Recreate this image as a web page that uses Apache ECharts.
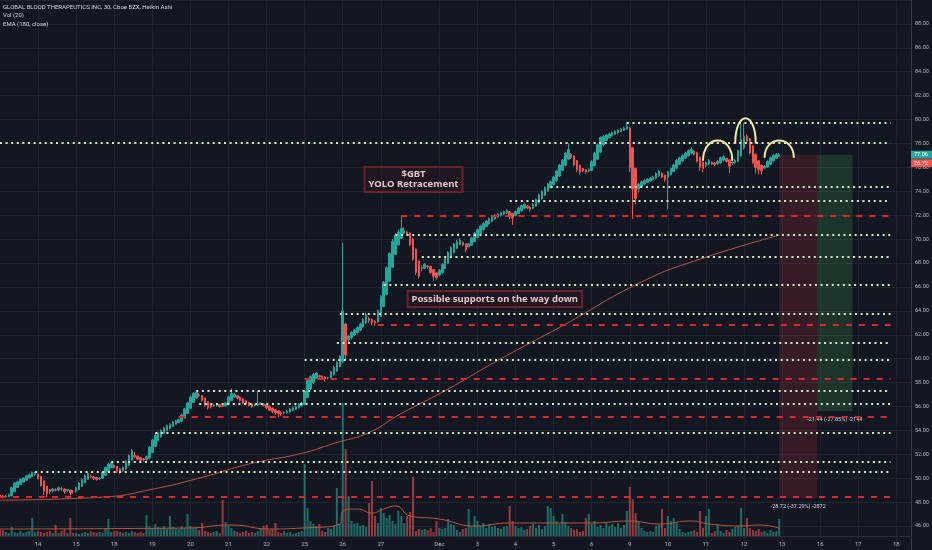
<!DOCTYPE html>
<html>
<head>
<meta charset="utf-8">
<script src="https://cdn.jsdelivr.net/npm/echarts@6/dist/echarts.min.js"></script>
<style>
html, body { margin: 0; padding: 0; background: #131722; }
#chart { width: 932px; height: 550px; }
</style>
</head>
<body>
<div id="chart"></div>
<script>
// sessions on the time axis ('' = no label shown) and 30-minute bars per session
var dayLabels = ['', '14', '15', '18', '19', '20', '21', '22', '25', '26', '27', '', 'Dec', '3', '4', '5', '6', '9', '10', '11', '12', '13', '16', '17', '18'];
var barsPerDay = [13, 13, 13, 13, 13, 13, 13, 13, 13, 13, 13, 7, 13, 13, 13, 13, 13, 13, 13, 13, 13, 13, 13, 13, 13];
var slotCount = 312;

// Heikin Ashi bars, one line per session (Nov 13 .. Dec 12)
var haOpen = [
  48.60,48.52,48.46,48.48,48.54,48.87,49.23,49.47,49.68,49.84,50.02,50.16,50.33,
  50.36,50.18,49.79,49.35,49.02,48.96,49.03,49.01,49.11,49.10,49.00,49.02,48.91,
  48.90,49.05,49.32,49.61,49.90,50.15,50.12,50.06,49.98,49.99,50.24,50.57,50.88,
  51.09,51.00,50.80,50.65,50.78,51.09,51.50,51.90,51.85,51.72,51.61,51.58,51.69,
  52.15,52.67,53.14,53.47,53.73,53.97,54.18,54.34,54.52,54.66,54.78,55.04,55.42,
  55.86,56.33,56.71,56.96,56.93,56.71,56.41,56.15,56.08,56.09,56.15,56.07,56.05,
  56.19,56.50,56.80,56.90,56.80,56.65,56.48,56.34,56.22,56.11,56.13,56.17,56.21,
  56.16,56.03,55.87,55.73,55.62,55.51,55.46,55.48,55.54,55.67,55.79,55.89,56.05,
  56.17,56.74,57.47,57.99,58.34,58.57,58.54,58.47,58.39,58.39,58.65,58.97,59.34,
  59.77,62.90,61.60,61.75,61.98,62.19,62.40,62.65,62.98,63.34,63.27,63.13,63.07,
  63.53,64.37,65.38,66.49,67.65,68.72,69.51,70.06,70.48,70.59,70.52,70.01,69.16,
  68.18,67.54,67.57,67.74,67.72,67.46,67.18,
  66.99,67.20,67.55,67.98,68.44,68.87,69.24,69.52,69.71,69.61,69.36,69.48,69.79,
  70.15,70.48,70.79,71.05,71.28,71.49,71.70,71.85,71.98,72.09,72.20,72.30,72.15,
  71.98,72.14,72.37,72.59,72.75,72.68,72.59,72.75,73.03,73.37,73.69,74.00,74.30,
  74.55,74.88,75.29,75.75,76.18,76.69,77.10,76.95,76.58,76.19,75.90,75.80,75.70,
  75.75,76.13,76.67,77.28,77.89,78.25,78.48,78.64,78.77,78.89,79.00,79.10,79.20,
  79.30,77.65,75.93,74.20,74.40,74.60,74.75,74.88,74.99,75.10,75.30,75.50,75.35,
  75.18,75.39,75.65,75.92,76.26,76.53,76.77,76.98,77.19,77.35,77.22,76.86,76.43,
  76.17,76.28,76.44,76.37,76.31,76.40,76.60,76.75,76.62,76.36,76.40,76.50,76.95,
  77.62,78.60,78.40,77.80,77.10,76.55,76.18,75.94,76.02,76.26,76.53,76.77,76.93
];
var haClose = [
  48.45,48.40,48.50,48.60,49.20,49.60,49.70,49.90,50.00,50.20,50.30,50.50,50.40,
  50.00,49.40,48.90,48.70,48.90,49.10,49.00,49.20,49.10,48.90,49.05,48.80,48.90,
  49.20,49.60,49.90,50.20,50.40,50.10,50.00,49.90,50.00,50.50,50.90,51.20,51.30,
  50.90,50.60,50.50,50.90,51.40,51.90,52.30,51.80,51.60,51.50,51.55,51.80,52.60,
  53.20,53.60,53.80,54.00,54.20,54.40,54.50,54.70,54.80,54.90,55.30,55.80,56.30,
  56.80,57.10,57.20,56.90,56.50,56.10,55.90,56.00,56.10,56.20,56.00,56.02,56.30,
  56.80,57.10,57.00,56.70,56.50,56.30,56.20,56.10,56.00,56.15,56.20,56.25,56.10,
  55.90,55.70,55.60,55.50,55.40,55.40,55.50,55.60,55.80,55.90,56.00,56.20,56.30,
  57.30,58.20,58.50,58.70,58.80,58.50,58.40,58.30,58.40,58.90,59.30,59.70,60.20,
  64.00,60.30,61.90,62.20,62.40,62.60,62.90,63.30,63.70,63.20,63.00,63.00,64.00,
  65.20,66.40,67.60,68.80,69.80,70.30,70.60,70.90,70.70,70.45,69.50,68.30,67.20,
  66.90,67.60,67.90,67.70,67.20,66.90,66.80,
  67.40,67.90,68.40,68.90,69.30,69.60,69.80,69.90,69.50,69.10,69.60,70.10,70.50,
  70.80,71.10,71.30,71.50,71.70,71.90,72.00,72.10,72.20,72.30,72.40,72.00,71.80,
  72.30,72.60,72.80,72.90,72.60,72.50,72.90,73.30,73.70,74.00,74.30,74.60,74.80,
  75.20,75.70,76.20,76.60,77.20,77.50,76.80,76.20,75.80,75.60,75.70,75.60,75.80,
  76.50,77.20,77.90,78.50,78.60,78.70,78.80,78.90,79.00,79.10,79.20,79.30,79.40,
  76.00,74.20,73.40,74.60,74.80,74.90,75.00,75.10,75.20,75.50,75.70,75.20,75.00,
  75.60,75.90,76.20,76.60,76.80,77.00,77.20,77.40,77.50,77.10,76.50,76.00,75.90,
  76.40,76.60,76.30,76.25,76.50,76.80,76.90,76.50,76.10,76.45,76.60,77.40,78.30,
  78.60,78.20,77.20,76.40,76.00,75.80,75.70,76.10,76.50,76.80,77.00,77.10,77.06
];
var haLow = [
  48.30,48.30,48.35,48.40,48.50,48.85,49.20,49.45,49.65,49.80,50.00,50.10,50.20,
  49.90,49.30,48.60,48.40,48.70,48.80,48.90,48.90,48.95,48.70,48.85,48.55,48.70,
  48.80,49.00,49.30,49.60,49.85,50.00,49.85,49.80,49.85,49.95,50.20,50.55,50.85,
  50.80,50.45,50.40,50.55,50.70,51.05,51.45,51.70,51.50,51.40,51.40,51.50,51.65,
  52.10,52.60,53.10,53.40,53.70,53.90,54.10,54.30,54.50,54.60,54.70,55.00,55.40,
  55.80,56.30,56.70,56.80,56.40,56.00,55.75,55.85,55.95,56.00,55.90,55.95,56.00,
  56.10,56.45,56.75,56.60,56.40,56.20,56.10,56.00,55.90,56.00,56.05,56.10,56.00,
  55.80,55.60,55.45,55.30,55.10,55.20,55.35,55.40,55.50,55.60,55.70,55.85,56.00,
  56.10,56.70,57.40,57.90,58.30,58.40,58.30,58.10,58.25,58.35,58.60,58.90,59.30,
  59.60,59.90,61.20,61.60,61.90,62.10,62.30,62.60,62.90,63.00,62.80,62.75,63.00,
  63.50,64.30,65.30,66.40,67.60,68.70,69.50,70.00,70.40,70.30,69.40,68.20,67.00,
  66.70,67.30,67.50,67.50,67.10,66.50,66.60,
  66.90,67.10,67.50,67.90,68.40,68.80,69.20,69.50,69.40,68.90,69.30,69.45,69.75,
  70.10,70.40,70.70,71.00,71.20,71.40,71.60,71.80,71.90,72.00,72.10,71.70,71.20,
  71.90,72.10,72.30,72.50,72.50,72.30,72.50,72.70,73.00,73.30,73.60,73.95,74.25,
  74.50,74.80,75.20,75.70,76.10,76.60,76.70,76.10,75.60,75.40,75.60,75.45,75.60,
  75.70,76.10,76.60,77.20,77.80,78.20,78.40,78.60,78.70,78.80,78.95,79.05,79.15,
  75.60,71.70,72.90,73.90,74.30,74.50,74.70,74.80,74.90,75.00,75.20,75.10,74.80,
  72.50,75.30,75.60,75.90,76.20,76.50,76.70,76.90,77.10,77.00,76.40,75.70,75.60,
  76.00,76.20,76.20,76.10,76.20,76.30,76.50,76.40,75.50,76.20,76.30,76.45,76.90,
  77.50,78.10,77.10,76.30,75.50,75.40,75.40,75.85,75.95,76.20,76.50,76.70,76.90
];
var haHigh = [
  48.70,48.60,48.60,48.70,49.30,49.70,49.80,50.00,50.10,50.30,50.40,50.55,50.55,
  50.40,50.20,49.80,49.35,49.10,49.20,49.15,49.30,49.30,49.15,49.10,49.05,49.00,
  49.30,49.70,50.00,50.30,50.50,50.30,50.20,50.10,50.10,50.60,51.00,51.30,51.40,
  51.15,51.00,50.85,51.00,51.50,52.00,52.45,52.20,51.90,51.80,51.70,51.90,52.70,
  53.30,53.80,53.90,54.10,54.30,54.50,54.60,54.80,54.90,55.00,55.40,55.90,56.40,
  56.90,57.20,57.35,57.10,56.95,56.75,56.45,56.20,56.20,56.30,56.20,56.20,56.40,
  56.90,57.50,57.15,56.95,56.85,56.70,56.50,56.40,56.25,56.25,57.30,56.35,56.30,
  56.20,56.10,55.90,55.80,55.70,55.60,55.60,55.70,55.90,56.00,56.10,56.30,56.40,
  57.40,58.30,58.60,58.80,58.90,58.65,58.60,58.55,58.50,59.00,59.40,59.80,60.30,
  69.70,63.00,62.00,62.30,62.50,62.70,63.00,63.40,63.85,63.50,63.35,63.20,64.10,
  65.30,66.50,67.70,68.90,70.00,70.50,70.80,72.00,71.00,70.70,70.60,70.10,69.20,
  68.20,67.80,68.00,67.85,67.80,67.50,67.20,
  67.50,68.00,68.50,69.00,69.40,69.70,69.95,70.10,69.80,69.65,69.70,70.20,70.60,
  70.90,71.20,71.40,71.60,71.80,72.00,72.10,72.20,72.30,72.40,72.50,72.35,72.20,
  72.40,72.70,72.90,73.00,72.85,72.75,73.00,73.40,73.80,74.10,74.40,74.70,74.90,
  75.30,75.80,76.30,76.70,77.30,78.00,77.20,77.00,76.60,76.25,75.95,75.85,75.90,
  76.60,77.30,78.00,78.60,78.70,78.80,78.90,79.00,79.10,79.20,79.30,79.40,79.80,
  79.40,77.70,75.95,74.70,74.90,75.00,75.10,75.20,75.30,75.60,75.80,75.60,75.40,
  75.70,76.00,76.30,76.70,76.90,77.10,77.30,77.50,77.70,77.45,77.30,76.90,76.50,
  76.50,76.70,76.50,76.45,76.60,76.90,77.00,76.80,76.70,76.55,76.70,77.50,79.60,
  79.70,78.75,78.45,77.85,77.15,76.60,76.25,76.20,76.60,76.90,77.10,77.20,77.20
];
// volume, thousands of shares
var volume = [
  70,60,40,30,90,40,30,50,30,40,50,180,40,
  50,40,30,40,50,30,110,30,50,70,30,180,30,
  30,20,30,40,30,50,40,30,40,30,80,170,40,
  50,50,40,30,40,30,50,40,30,40,30,210,100,
  80,120,90,80,100,70,200,90,80,70,100,80,220,
  100,80,90,60,130,50,40,30,40,50,30,360,140,
  100,80,50,40,30,40,50,30,40,30,50,70,100,
  110,60,70,130,40,30,50,30,40,20,30,40,50,
  720,280,150,120,100,120,50,40,80,70,100,480,120,
  1330,870,400,150,120,130,100,110,90,330,550,200,130,
  280,230,180,210,150,120,250,200,130,200,240,590,50,
  70,60,70,60,80,40,150,
  80,70,80,170,120,110,60,40,70,80,270,100,200,
  150,100,130,80,120,90,100,80,70,90,100,300,150,
  100,80,90,60,70,100,120,80,110,70,100,300,280,
  200,150,120,220,140,100,80,60,70,40,50,180,220,
  120,150,90,110,80,140,100,120,90,130,80,110,250,
  490,370,230,150,80,50,40,50,40,100,110,270,80,
  200,150,180,130,70,40,30,40,50,60,40,250,80,
  200,270,30,50,120,50,30,60,40,70,90,100,280,
  80,180,80,60,50,70,40,50,30,60,40,50,170
];
// EMA(180, close) and volume MA(20), read at a few bars: [bar, value]
var emaPoints = [[0,48.17],[35,48.42],[52,49.08],[69,50.08],[86,51.25],[103,52.08],[114,52.92],[126,53.83],[137,55.42],[152,57.33],[171,60.0],[192,62.75],[219,66.42],[239,68.33],[266,70.33]];
var volMaPoints = [[0,70],[64,80],[79,110],[92,70],[103,80],[116,120],[117,250],[122,270],[127,230],[131,270],[135,300],[140,200],[150,170],[162,100],[174,130],[190,130],[202,130],[215,150],[225,120],[236,150],[242,120],[253,100],[259,110],[266,80]];

// drawn support / resistance levels: first bar, price, dashed red (true) or dotted (false)
var levelStart = [214, 0, 188, 174, 137, 135, 144, 131, 116, 129, 115, 104, 104, 67, 68, 61, 53, 38, 12, 0];
var levelPrice = [79.75, 78.1, 74.4, 73.22, 71.92, 70.33, 68.5, 66.15, 63.78, 62.88, 61.33, 59.92, 58.33, 57.3, 56.22, 55.18, 53.82, 51.36, 50.53, 48.46];
var levelDashed = [false, false, false, false, true, false, false, false, false, true, false, false, true, false, false, true, false, false, false, true];
var levelEnd = 304;

// head & shoulders arches: first bar, last bar, base price, top price
var arcStart = [240, 251, 261];
var arcEnd = [250, 258, 271];
var arcBase = [76.55, 78.0, 76.8];
var arcTop = [78.25, 80.1, 78.25];

// measured drops (entry price, target, bars)
var entryPrice = 77.06;
var lastRealPrice = '76.72';
var riskZone = { from: 266, to: 279, low: 48.34, text: '-28.72 (-37.29%) -2872' };
var rewardZone = { from: 279, to: 291, low: 55.62, text: '-21.44 (-27.85%) -2144' };

var categories = [], dayStart = {};
for (var d = 0; d < dayLabels.length; d++) {
  for (var k = 0; k < barsPerDay[d]; k++) {
    if (k === 0 && dayLabels[d]) dayStart[categories.length] = dayLabels[d];
    categories.push('d' + d + 'b' + k);
  }
}
categories = categories.slice(0, slotCount);

var UP = '#26a69a', DOWN = '#ef5350';
var candleData = haOpen.map(function (o, i) { return [o, haClose[i], haLow[i], haHigh[i]]; });
var volData = volume.map(function (v, i) {
  return { value: v, itemStyle: { color: haClose[i] >= haOpen[i] ? 'rgba(38,166,154,0.6)' : 'rgba(239,83,80,0.6)' } };
});
var dotStyle = { color: '#d6eac4', width: 2, type: [2, 3.6], cap: 'butt' };
var dashStyle = { color: '#e0262c', width: 2, type: [6, 7], cap: 'butt' };
var levelLines = levelPrice.map(function (p, i) {
  return [
    { coord: [categories[levelStart[i]], p], lineStyle: levelDashed[i] ? dashStyle : dotStyle },
    { coord: [categories[levelEnd], p] }
  ];
});
function isDay(i) { return !!dayStart[i]; }

var chart = echarts.init(document.getElementById('chart'));
chart.setOption({
  animation: false,
  backgroundColor: '#131722',
  grid: [
    { left: -1, right: 21, top: -2, height: 552 },
    { left: -1, right: 21, bottom: 14, height: 200 }
  ],
  xAxis: [
    { type: 'category', gridIndex: 0, data: categories, boundaryGap: false,
      axisLine: { show: false }, axisTick: { show: false }, axisLabel: { show: false },
      splitLine: { show: true, interval: isDay, lineStyle: { color: '#1f232e', width: 1 } } },
    { type: 'category', gridIndex: 1, data: categories, boundaryGap: false,
      axisLine: { show: true, lineStyle: { color: '#2a2e39' } }, axisTick: { show: false },
      axisLabel: { interval: isDay, formatter: function (v, i) { return dayStart[i] || ''; },
        color: '#b2b5be', fontSize: 6, margin: 5, fontFamily: 'Roboto' },
      splitLine: { show: false } }
  ],
  yAxis: [
    { type: 'value', gridIndex: 0, position: 'right', min: 44, max: 90, interval: 2,
      axisLine: { show: true, lineStyle: { color: '#363a45' } }, axisTick: { show: false },
      axisLabel: { color: '#b2b5be', fontSize: 5.5, margin: 4, fontFamily: 'Roboto',
        formatter: function (v) { return (v < 46 || v > 88) ? '' : v.toFixed(2); } },
      splitLine: { lineStyle: { color: '#1f232e', width: 1 } } },
    { type: 'value', gridIndex: 1, min: 0, max: 2000, show: false }
  ],
  series: [
    { type: 'bar', name: 'Vol', xAxisIndex: 1, yAxisIndex: 1, data: volData, barWidth: 2 },
    { type: 'line', xAxisIndex: 1, yAxisIndex: 1, showSymbol: false, smooth: true,
      data: volMaPoints.map(function (p) { return [categories[p[0]], p[1]]; }),
      lineStyle: { color: '#b8563c', width: 1 } },
    { type: 'line', xAxisIndex: 0, yAxisIndex: 0, showSymbol: false, smooth: true,
      data: emaPoints.map(function (p) { return [categories[p[0]], p[1]]; }),
      lineStyle: { color: '#c0533a', width: 1 } },
    { type: 'line', xAxisIndex: 0, yAxisIndex: 0, data: [],
      markLine: { silent: true, symbol: ['none', 'none'], label: { show: false }, data: levelLines } },
    { type: 'candlestick', xAxisIndex: 0, yAxisIndex: 0, data: candleData, barWidth: 2,
      itemStyle: { color: UP, color0: DOWN, borderColor: UP, borderColor0: DOWN, borderWidth: 1 },
      markArea: { silent: true, data: [
        [ { coord: [categories[riskZone.from], entryPrice], itemStyle: { color: 'rgba(242,54,69,0.16)' },
            label: { show: true, position: 'bottom', distance: 6, formatter: riskZone.text, color: '#d1d4dc', fontSize: 5.5, fontFamily: 'Roboto' } },
          { coord: [categories[riskZone.to], riskZone.low] } ],
        [ { coord: [categories[rewardZone.from], entryPrice], itemStyle: { color: 'rgba(76,175,80,0.2)' },
            label: { show: true, position: 'bottom', distance: 6, formatter: rewardZone.text, color: '#d1d4dc', fontSize: 5.5, fontFamily: 'Roboto' } },
          { coord: [categories[rewardZone.to], rewardZone.low] } ]
      ] } }
  ]
});

// overlay drawings placed through the chart's own coordinate system
var graphics = [];
for (var a = 0; a < arcStart.length; a++) {
  var p0 = chart.convertToPixel({ gridIndex: 0 }, [categories[arcStart[a]], arcBase[a]]);
  var p1 = chart.convertToPixel({ gridIndex: 0 }, [categories[arcEnd[a]], arcBase[a]]);
  var pt = chart.convertToPixel({ gridIndex: 0 }, [categories[arcStart[a]], arcTop[a]]);
  var lift = (p0[1] - pt[1]) * 4 / 3;
  graphics.push({ type: 'bezierCurve', silent: true, z: 20,
    shape: { x1: p0[0], y1: p0[1], x2: p1[0], y2: p1[1], cpx1: p0[0], cpy1: p0[1] - lift, cpx2: p1[0], cpy2: p1[1] - lift },
    style: { stroke: '#efeca6', lineWidth: 2, fill: null } });
}
var yEntry = chart.convertToPixel({ yAxisIndex: 0 }, entryPrice);
graphics.push(
  { type: 'rect', z: 30, shape: { x: 911, y: yEntry - 4, width: 21, height: 8 }, style: { fill: UP } },
  { type: 'text', z: 31, style: { text: entryPrice.toFixed(2), x: 914, y: yEntry, textVerticalAlign: 'middle', fill: '#ffffff', font: '5.5px Roboto' } },
  { type: 'rect', z: 30, shape: { x: 911, y: yEntry + 4.5, width: 21, height: 8 }, style: { fill: DOWN } },
  { type: 'text', z: 31, style: { text: lastRealPrice, x: 914, y: yEntry + 8.5, textVerticalAlign: 'middle', fill: '#ffffff', font: '5.5px Roboto' } },
  { type: 'text', z: 30, style: { text: 'GLOBAL BLOOD THERAPEUTICS INC, 30, Cboe BZX, Heikin Ashi', x: 3, y: 7.5, textVerticalAlign: 'middle', fill: '#d1d4dc', font: '6px Roboto' } },
  { type: 'text', z: 30, style: { text: 'Vol (20)', x: 3, y: 15.5, textVerticalAlign: 'middle', fill: '#d1d4dc', font: '6px Roboto' } },
  { type: 'text', z: 30, style: { text: 'EMA (180, close)', x: 3, y: 24, textVerticalAlign: 'middle', fill: '#d1d4dc', font: '6px Roboto' } },
  { type: 'text', z: 30, style: { text: '$GBT\nYOLO Retracement', x: 413.5, y: 179.5, textAlign: 'center', textVerticalAlign: 'middle',
      fill: '#e3c4cc', font: 'bold 9.5px "Noto Sans"', lineHeight: 9.5,
      backgroundColor: 'rgba(110,20,35,0.15)', borderColor: '#6b2330', borderWidth: 1, padding: [3, 4, 3, 4] } },
  { type: 'text', z: 30, style: { text: 'Possible supports on the way down', x: 407.5, y: 299, textVerticalAlign: 'middle',
      fill: '#e3c4cc', font: 'bold 9.5px "Noto Sans"',
      backgroundColor: 'rgba(110,20,35,0.15)', borderColor: '#6b2330', borderWidth: 1, padding: [3, 4, 3, 4] } }
);
chart.setOption({ graphic: graphics });
</script>
</body>
</html>
